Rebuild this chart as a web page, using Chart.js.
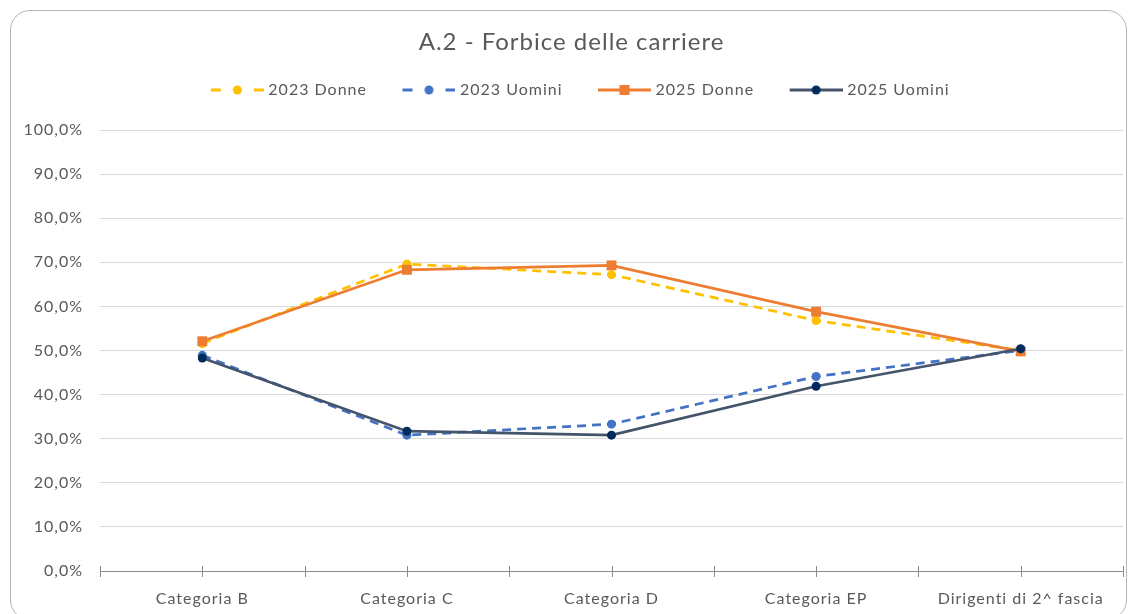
<!DOCTYPE html>
<html>
<head>
<meta charset="utf-8">
<script src="https://cdn.jsdelivr.net/npm/chart.js@4.4.1/dist/chart.umd.min.js"></script>
<style>
  html, body { margin: 0; padding: 0; background: #ffffff; }
  #wrap { position: relative; width: 1130px; height: 614px; overflow: hidden; }
  #frame { position: absolute; left: 10px; top: 10px; width: 1117px; height: 610px;
           border: 1px solid #b4b4b4; border-radius: 20px; box-sizing: border-box; }
  #c { position: absolute; left: 0; top: 0; }
</style>
</head>
<body>
<div id="wrap">
  <div id="frame"></div>
  <canvas id="c" width="1130" height="614"></canvas>
</div>
<script>
// ---- data ----
const chartTitle = 'A.2 - Forbice delle carriere';
const categories = ['Categoria B', 'Categoria C', 'Categoria D', 'Categoria EP', 'Dirigenti di 2^ fascia'];
const seriesNames = ['2023 Donne', '2023 Uomini', '2025 Donne', '2025 Uomini'];
const donne2023  = [51.6, 69.6, 67.2, 56.8, 50.0];
const uomini2023 = [48.9, 30.8, 33.3, 44.1, 50.0];
const donne2025  = [52.1, 68.3, 69.3, 58.8, 49.8];
const uomini2025 = [48.3, 31.7, 30.8, 41.9, 50.4];
const yMin = 0, yMax = 100, yStep = 10;

// ---- styles ----
const FONT = 'Lato, "Open Sans", sans-serif';
const TXT = '#595959';
const C_Y = '#FFC000', C_B = '#4472C4', C_O = '#ED7D31', C_N = '#44546A', C_NM = '#002B5C';
const LETTER_SPACING = '1px';

function makeIcon(color, dashed, marker, markerColor) {
  const L = 21, W = 53, H = 16;
  const cv = document.createElement('canvas');
  cv.width = L + W; cv.height = H;
  const g = cv.getContext('2d');
  const cy = H / 2, cx = L + W / 2;
  g.strokeStyle = color; g.lineWidth = 3;
  g.beginPath();
  if (dashed) {
    g.moveTo(L, cy); g.lineTo(L + 10, cy);
    g.moveTo(L + W - 10, cy); g.lineTo(L + W, cy);
  } else {
    g.moveTo(L, cy); g.lineTo(L + W, cy);
  }
  g.stroke();
  g.fillStyle = markerColor;
  if (marker === 'rect') {
    g.fillRect(cx - 5, cy - 5, 10, 10);
  } else {
    g.beginPath(); g.arc(cx, cy, 4.5, 0, Math.PI * 2); g.fill();
  }
  return cv;
}
const icons = [
  makeIcon(C_Y, true, 'circle', C_Y),
  makeIcon(C_B, true, 'circle', C_B),
  makeIcon(C_O, false, 'rect', C_O),
  makeIcon(C_N, false, 'circle', C_NM)
];

const fmtPct = v => Number(v).toFixed(1).replace('.', ',') + '%';

const spacing = {
  id: 'spacing',
  beforeLayout(chart) { chart.ctx.letterSpacing = LETTER_SPACING; },
  beforeDraw(chart) { chart.ctx.letterSpacing = LETTER_SPACING; }
};

const legendSpacer = {
  id: 'legendSpacer',
  beforeLayout(chart) {
    const lg = chart.legend;
    if (lg && !lg._wrapped) {
      const orig = lg.fit;
      lg.fit = function () { orig.call(this); this.height += 22; };
      lg._wrapped = true;
    }
  }
};

const crossTicks = {
  id: 'crossTicks',
  afterDraw(chart) {
    const xs = chart.scales.x, ctx = chart.ctx;
    const y0 = xs.top;
    const n = categories.length;
    const pos = [];
    for (let i = 0; i < n; i++) pos.push(xs.getPixelForValue(i));
    const step = n > 1 ? pos[1] - pos[0] : 0;
    const marks = [];
    for (let i = 0; i < n; i++) { marks.push(pos[i] - step / 2); marks.push(pos[i]); }
    marks.push(pos[n - 1] + step / 2);
    ctx.save();
    ctx.strokeStyle = '#8c8c8c'; ctx.lineWidth = 1;
    ctx.beginPath();
    marks.forEach(x => { const xx = Math.round(x) + 0.5; ctx.moveTo(xx, y0 - 5); ctx.lineTo(xx, y0 + 6); });
    ctx.stroke();
    ctx.restore();
  }
};

const mk = (label, data, color, dashed, style, radius, pColor, order) => ({
  label, data,
  borderColor: color, backgroundColor: pColor,
  borderWidth: 2.75,
  borderDash: dashed ? [9, 6] : [],
  pointStyle: style, pointRadius: radius, pointHoverRadius: radius,
  pointBackgroundColor: pColor, pointBorderColor: pColor, pointBorderWidth: 0,
  tension: 0, fill: false, order
});

new Chart(document.getElementById('c'), {
  type: 'line',
  data: {
    labels: categories,
    datasets: [
      mk(seriesNames[0], donne2023, C_Y, true, 'circle', 4.5, C_Y, 2),
      mk(seriesNames[1], uomini2023, C_B, true, 'circle', 4.5, C_B, 2),
      mk(seriesNames[2], donne2025, C_O, false, 'rect', 7, C_O, 1),
      mk(seriesNames[3], uomini2025, C_N, false, 'circle', 4.5, C_NM, 0)
    ]
  },
  options: {
    responsive: false,
    animation: false,
    devicePixelRatio: 1,
    layout: { padding: { left: 20, right: 7, top: 0, bottom: 0 } },
    plugins: {
      title: {
        display: true, text: chartTitle, color: TXT,
        font: { family: FONT, size: 24, weight: 'normal' },
        padding: { top: 27.6, bottom: 7.6 }
      },
      legend: {
        display: true,
        labels: {
          usePointStyle: true,
          pointStyleWidth: 67,
          padding: 18,
          color: TXT,
          font: { family: FONT, size: 16 },
          generateLabels(chart) {
            return chart.data.datasets.map((ds, i) => ({
              text: ds.label, pointStyle: icons[i], datasetIndex: i,
              fontColor: TXT, hidden: false, lineWidth: 0,
              strokeStyle: 'rgba(0,0,0,0)', fillStyle: 'rgba(0,0,0,0)'
            }));
          }
        }
      },
      tooltip: { enabled: false }
    },
    scales: {
      x: {
        offset: true,
        grid: { display: false, drawTicks: false },
        border: { display: true, color: '#8c8c8c', width: 1 },
        ticks: { color: TXT, font: { family: FONT, size: 16 }, padding: 18, maxRotation: 0, autoSkip: false },
        afterFit(s) { s.height = 43; }
      },
      y: {
        min: yMin, max: yMax,
        grid: { color: '#d9d9d9', lineWidth: 1, drawTicks: false },
        border: { display: false },
        ticks: { stepSize: yStep, color: TXT, font: { family: FONT, size: 16 }, padding: 17, callback: v => fmtPct(v) },
        afterFit(s) { s.width = 80; }
      }
    }
  },
  plugins: [spacing, legendSpacer, crossTicks]
});
</script>
</body>
</html>
